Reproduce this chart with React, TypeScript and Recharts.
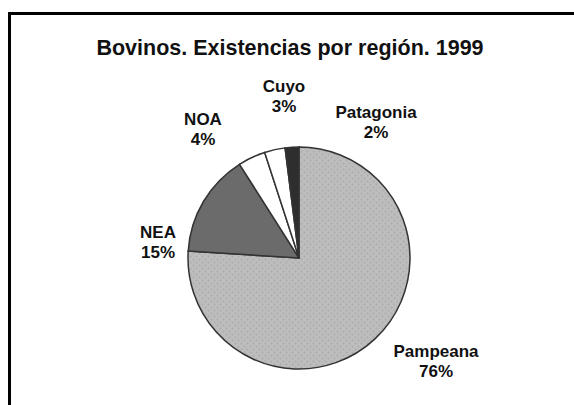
import { Cell, Pie, PieChart } from 'recharts'

const regions = ['Pampeana', 'NEA', 'NOA', 'Cuyo', 'Patagonia']
const shares = [76, 15, 4, 3, 2]
const fills = ['url(#dots)', '#6b6b6b', '#ffffff', '#ffffff', '#2e2e2e']

// label anchor offsets from pie centre (dx, dy)
const labelOffsets = [
  [137, 99],
  [-141, -20],
  [-96, -133],
  [-15, -166],
  [77, -140],
]

const data = regions.map((name, i) => ({ name, value: shares[i] }))

const font = '"Liberation Sans", Arial, sans-serif'

const renderLabel = (props: any) => {
  const { cx, cy, index } = props
  const [dx, dy] = labelOffsets[index]
  const x = cx + dx
  const y = cy + dy
  return (
    <g key={`lbl-${index}`}>
      <text x={x} y={y} textAnchor="middle" fontFamily={font} fontWeight="bold" fontSize={17} fill="#111">
        {regions[index]}
      </text>
      <text x={x} y={y + 20} textAnchor="middle" fontFamily={font} fontWeight="bold" fontSize={17} fill="#111">
        {shares[index]}%
      </text>
    </g>
  )
}

export default function App() {
  return (
    <div style={{ position: 'absolute', left: 0, top: 0, width: 574, height: 405, background: '#fff' }}>
      <div style={{ position: 'absolute', left: 8, top: 12, width: 566, height: 3, background: '#000' }} />
      <div style={{ position: 'absolute', left: 8, top: 12, width: 3, height: 393, background: '#000' }} />
      <div
        style={{
          position: 'absolute',
          left: 0,
          width: 580,
          top: 36,
          textAlign: 'center',
          fontFamily: font,
          fontWeight: 'bold',
          fontSize: 21.5,
          color: '#111',
        }}
      >
        Bovinos. Existencias por región. 1999
      </div>
      <PieChart
        width={574}
        height={405}
        margin={{ top: 0, right: 0, bottom: 0, left: 0 }}
        style={{ position: 'absolute', left: 0, top: 0 }}
      >
        <defs>
          <pattern id="dots" width="6" height="6" patternUnits="userSpaceOnUse">
            <rect width="6" height="6" fill="#bdbdbd" />
            <circle cx="1.5" cy="1.5" r="1" fill="#acacac" />
            <circle cx="4.5" cy="4.5" r="1" fill="#acacac" />
          </pattern>
        </defs>
        <Pie
          data={data}
          dataKey="value"
          nameKey="name"
          cx={299}
          cy={258}
          outerRadius={111}
          startAngle={90}
          endAngle={-270}
          stroke="#333"
          strokeWidth={1.5}
          label={renderLabel}
          labelLine={false}
          isAnimationActive={false}
        >
          {data.map((d, i) => (
            <Cell key={d.name} fill={fills[i]} />
          ))}
        </Pie>
      </PieChart>
    </div>
  )
}
